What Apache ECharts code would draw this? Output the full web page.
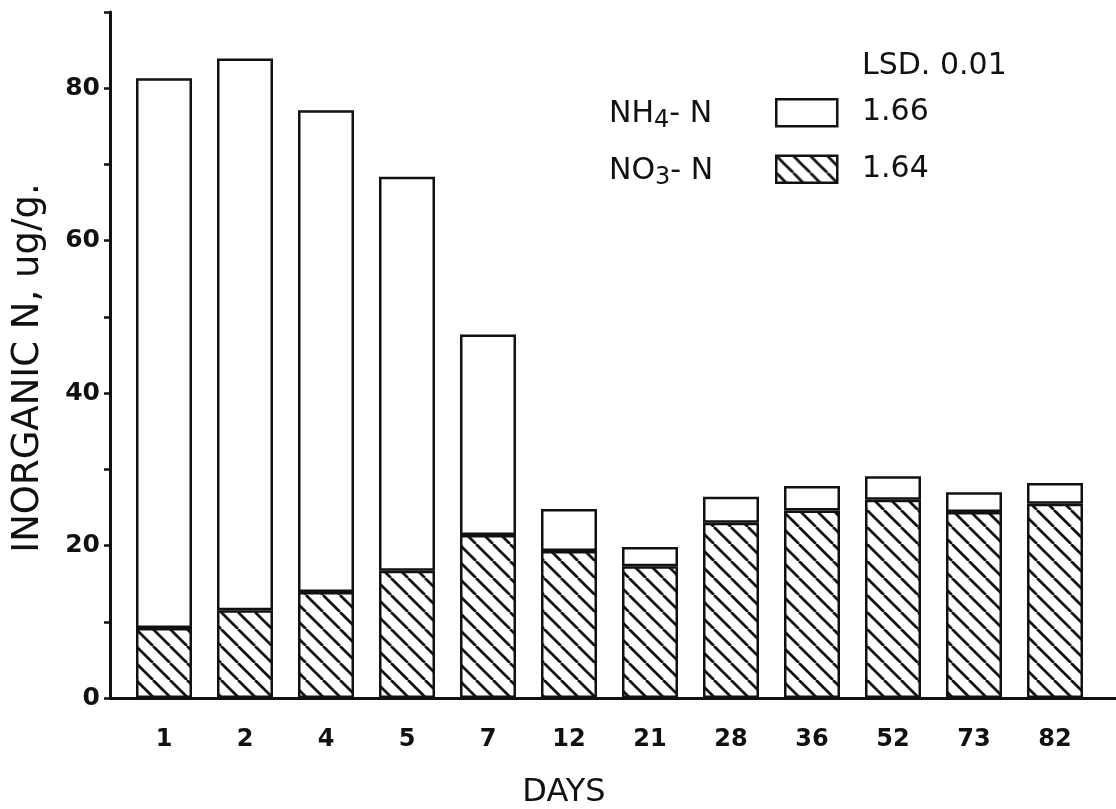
<!DOCTYPE html>
<html><head><meta charset="utf-8">
<script src="https://cdn.jsdelivr.net/npm/echarts@6/dist/echarts.min.js"></script>
<style>html,body{margin:0;padding:0;background:#fff}#c{width:1116px;height:809px}</style>
</head><body><div id="c"></div>
<script>
// ---- data ----
const days = ['1','2','4','5','7','12','21','28','36','52','73','82'];
const no3N = [9.2, 11.5, 13.9, 16.7, 21.4, 19.3, 17.3, 23.0, 24.6, 26.0, 24.4, 25.5];
const nh4N = [72.1, 72.4, 63.2, 51.7, 26.3, 5.5, 2.5, 3.4, 3.2, 3.1, 2.6, 2.7];
const yTickLabels = [0, 20, 40, 60, 80];
const seriesNames = ['NH4- N', 'NO3- N'];
const legendLabels = [['NH', '4', '- N'], ['NO', '3', '- N']];
const lsdTitle = 'LSD. 0.01';
const lsdValues = ['1.66', '1.64'];
const xTitle = 'DAYS';
const yTitle = 'INORGANIC N, ug/g.';

const ink = '#111';
const FONT = '"DejaVu Sans", sans-serif';

function hatch() {
  const s = 17, c = document.createElement('canvas');
  c.width = s; c.height = s;
  const g = c.getContext('2d');
  g.fillStyle = '#fff'; g.fillRect(0, 0, s, s);
  g.strokeStyle = ink; g.lineWidth = 2.7;
  for (const k of [-1, 0, 1]) {
    g.beginPath(); g.moveTo(k * s, 0); g.lineTo(k * s + s, s); g.stroke();
  }
  return c;
}
const hatchFill = { image: hatch(), repeat: 'repeat' };

const legendRich = {
  n: { fontSize: 30, fontFamily: FONT, color: ink },
  s: { fontSize: 24, fontFamily: FONT, color: ink, padding: [14, 0, 0, 0] }
};
function legendText(parts) { return '{n|' + parts[0] + '}{s|' + parts[1] + '}{n|' + parts[2] + '}'; }

const chart = echarts.init(document.getElementById('c'), null, { renderer: 'canvas' });
const option = {
  animation: false,
  backgroundColor: '#fff',
  grid: [
    { left: 123.5, right: 20.5, top: 12, bottom: 111 },
    { left: 110, right: 0, top: 12, bottom: 111 }
  ],
  xAxis: [
    { type: 'category', gridIndex: 0, data: days,
      axisLine: { show: false }, axisTick: { show: false },
      axisLabel: { margin: 30, fontSize: 24, fontWeight: 'bold', color: ink, fontFamily: FONT } },
    { type: 'value', gridIndex: 1, min: 0, max: 1,
      axisLine: { show: true, lineStyle: { color: ink, width: 3 } },
      axisTick: { show: false }, axisLabel: { show: false }, splitLine: { show: false } }
  ],
  yAxis: [
    { type: 'value', gridIndex: 0, min: 0, max: 90, show: false },
    { type: 'value', gridIndex: 1, min: 0, max: 90, interval: 10,
      axisLine: { show: true, lineStyle: { color: ink, width: 3 } },
      axisTick: { show: true, length: 6, lineStyle: { color: ink, width: 2.5 } },
      axisLabel: { margin: 10, fontSize: 25, fontWeight: 'bold', color: ink, fontFamily: FONT,
        formatter: v => yTickLabels.includes(v) ? String(v) : '' },
      splitLine: { show: false } }
  ],
  legend: {
    data: [seriesNames[0], seriesNames[1]],
    orient: 'vertical', left: 775, top: 98, icon: 'rect', padding: 0,
    itemWidth: 61, itemHeight: 27, itemGap: 27, selectedMode: false,
    itemStyle: { borderColor: ink, borderWidth: 2.5 },
    formatter: () => '',
    textStyle: { fontSize: 1, lineHeight: 1 }
  },
  series: [
    { name: seriesNames[1], type: 'bar', stack: 'n', xAxisIndex: 0, yAxisIndex: 0,
      data: no3N, barWidth: 56,
      itemStyle: { color: hatchFill, borderColor: ink, borderWidth: 2.5 } },
    { name: seriesNames[0], type: 'bar', stack: 'n', xAxisIndex: 0, yAxisIndex: 0,
      data: nh4N, barWidth: 56,
      itemStyle: { color: '#fff', borderColor: ink, borderWidth: 2.5 } }
  ],
  graphic: [
    { type: 'text', x: 28, y: 368, rotation: Math.PI / 2,
      style: { text: yTitle, font: '37px ' + FONT, fill: ink, align: 'center', verticalAlign: 'middle' } },
    { type: 'text', x: 564, y: 793,
      style: { text: xTitle, font: '32px ' + FONT, fill: ink, align: 'center', verticalAlign: 'middle' } },
    { type: 'text', x: 609, y: 114,
      style: { text: legendText(legendLabels[0]), rich: legendRich, fill: ink, align: 'left', verticalAlign: 'middle' } },
    { type: 'text', x: 609, y: 171,
      style: { text: legendText(legendLabels[1]), rich: legendRich, fill: ink, align: 'left', verticalAlign: 'middle' } },
    { type: 'text', x: 862, y: 66,
      style: { text: lsdTitle, font: '30px ' + FONT, fill: ink, align: 'left', verticalAlign: 'middle' } },
    { type: 'text', x: 862, y: 112,
      style: { text: lsdValues[0], font: '30px ' + FONT, fill: ink, align: 'left', verticalAlign: 'middle' } },
    { type: 'text', x: 862, y: 169,
      style: { text: lsdValues[1], font: '30px ' + FONT, fill: ink, align: 'left', verticalAlign: 'middle' } }
  ]
};
chart.setOption(option);
</script>
</body></html>
